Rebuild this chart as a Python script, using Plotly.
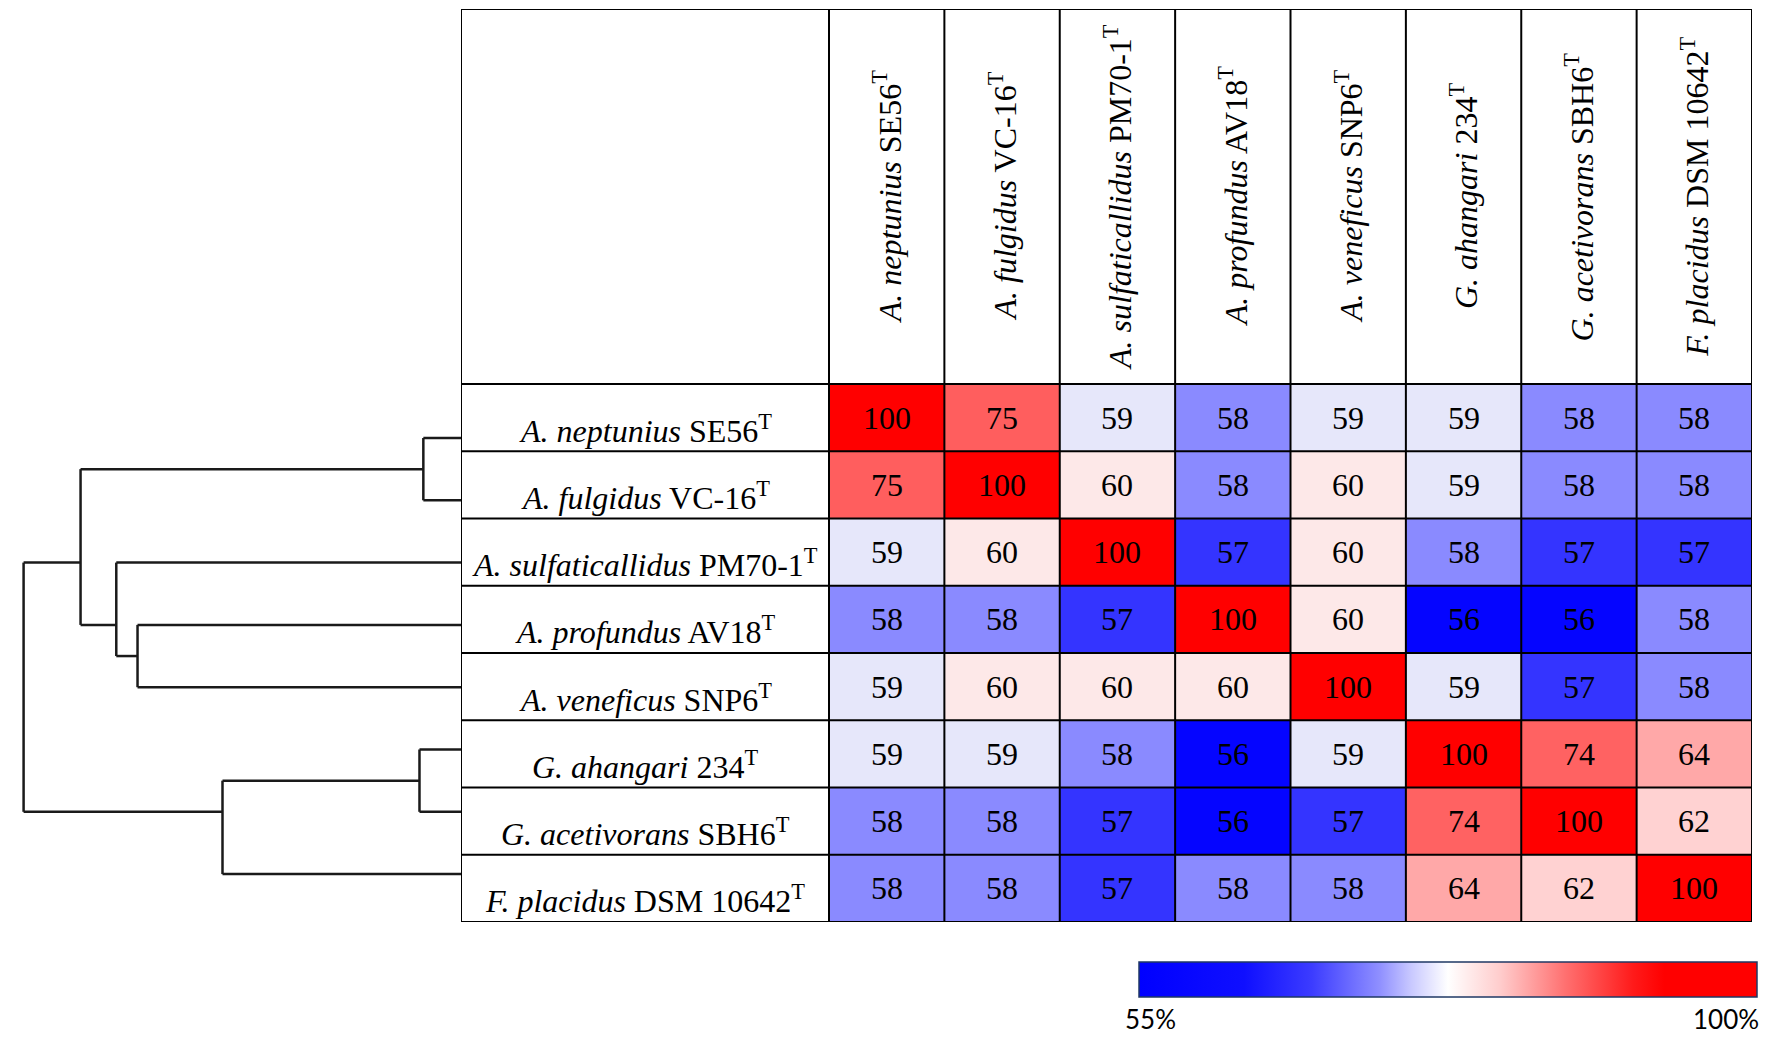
import plotly.graph_objects as go

# ---------------- data ----------------
row_labels = [
    "<i>A. neptunius</i> SE56<sup>T</sup>",
    "<i>A. fulgidus</i> VC-16<sup>T</sup>",
    "<i>A. sulfaticallidus</i> PM70-1<sup>T</sup>",
    "<i>A. profundus</i> AV18<sup>T</sup>",
    "<i>A. veneficus</i> SNP6<sup>T</sup>",
    "<i>G. ahangari</i> 234<sup>T</sup>",
    "<i>G. acetivorans</i> SBH6<sup>T</sup>",
    "<i>F. placidus</i> DSM 10642<sup>T</sup>",
]
col_labels = list(row_labels)

values = [
    [100, 75, 59, 58, 59, 59, 58, 58],
    [75, 100, 60, 58, 60, 59, 58, 58],
    [59, 60, 100, 57, 60, 58, 57, 57],
    [58, 58, 57, 100, 60, 56, 56, 58],
    [59, 60, 60, 60, 100, 59, 57, 58],
    [59, 59, 58, 56, 59, 100, 74, 64],
    [58, 58, 57, 56, 57, 74, 100, 62],
    [58, 58, 57, 58, 58, 64, 62, 100],
]

# dendrogram merges: (left, right, height); ids >= 8 refer to earlier merges
merges = [
    (0, 1, 3.9),
    (3, 4, 33.5),
    (2, 9, 35.7),
    (8, 10, 39.4),
    (5, 6, 4.3),
    (12, 7, 24.7),
    (11, 13, 45.3),
]

scale_min, scale_max = 55, 100
scale_labels = ["55%", "100%"]

# ---------------- geometry / style ----------------
PAGE_W, PAGE_H = 1772, 1043
OFF = 8                      # default page margin around the figure
W, H = PAGE_W - 2 * OFF, PAGE_H - 2 * OFF
px = lambda v: (v - OFF) / W
py = lambda v: 1 - (v - OFF) / H

n = len(values)
tab_left, lab_right, tab_right = 461, 829, 1752
tab_top, head_bot, tab_bot = 9, 384, 922
colw = (tab_right - lab_right) / n
rowh = (tab_bot - head_bot) / n
x_lo = -0.5 - (lab_right - tab_left) / colw
x_hi = n - 0.5
y_lo = -0.5 - (head_bot - tab_top) / rowh
y_hi = n - 0.5

leaf_top, leaf_step = 438, 62.3   # dendrogram leaf spacing (px)

cell_scale = [
    [0.0, "rgb(0,0,255)"],
    [(56 - 55) / 45, "rgb(5,5,255)"],
    [(57 - 55) / 45, "rgb(52,52,255)"],
    [(58 - 55) / 45, "rgb(138,138,255)"],
    [(59 - 55) / 45, "rgb(230,231,250)"],
    [(60 - 55) / 45, "rgb(253,232,232)"],
    [(62 - 55) / 45, "rgb(255,210,210)"],
    [(64 - 55) / 45, "rgb(255,168,168)"],
    [(74 - 55) / 45, "rgb(255,98,98)"],
    [(75 - 55) / 45, "rgb(255,94,94)"],
    [1.0, "rgb(255,0,0)"],
]
bar_scale = [
    [0.0, "rgb(0,0,255)"],
    [0.17, "rgb(15,15,255)"],
    [0.28, "rgb(60,60,255)"],
    [0.39, "rgb(144,144,255)"],
    [0.44, "rgb(200,200,255)"],
    [0.50, "rgb(255,255,255)"],
    [0.585, "rgb(255,204,204)"],
    [0.69, "rgb(255,112,112)"],
    [0.80, "rgb(255,26,26)"],
    [0.85, "rgb(255,0,0)"],
    [1.0, "rgb(255,0,0)"],
]

serif = "Liberation Serif, Times New Roman, serif"

fig = go.Figure()

# heatmap cells
fig.add_trace(go.Heatmap(
    z=values, x=list(range(n)), y=list(range(n)),
    zmin=scale_min, zmax=scale_max, colorscale=cell_scale, showscale=False,
    texttemplate="%{z}", textfont=dict(family=serif, size=32, color="black"),
    hoverinfo="skip", xaxis="x", yaxis="y",
))

# dendrogram
node_y = [float(i) for i in range(n)]
node_h = [0.0] * n
leaves = [[i] for i in range(n)]
dx, dy = [], []
for a, b, h in merges:
    lv = leaves[a] + leaves[b]
    ym = sum(lv) / len(lv)
    for c in (a, b):
        dx += [node_h[c], h, None]
        dy += [node_y[c], node_y[c], None]
    dx += [h, h, None]
    dy += [node_y[a], node_y[b], None]
    leaves.append(lv)
    node_y.append(ym)
    node_h.append(h)
fig.add_trace(go.Scatter(
    x=dx, y=dy, mode="lines", line=dict(color="#1a1a1a", width=2.5),
    hoverinfo="skip", xaxis="x2", yaxis="y2", showlegend=False,
))

# colour bar (legend of the scale)
fig.add_trace(go.Scatter(
    x=[None, None], y=[None, None], mode="markers", xaxis="x2", yaxis="y2",
    showlegend=False, hoverinfo="skip",
    marker=dict(
        color=[scale_min, scale_max], cmin=scale_min, cmax=scale_max,
        colorscale=bar_scale, showscale=True,
        colorbar=dict(
            orientation="h", x=px((1139 + 1757) / 2), xanchor="center",
            y=py(962), yanchor="top", len=618, lenmode="pixels",
            thickness=35, thicknessmode="pixels", xpad=0, ypad=0,
            outlinewidth=1.5, outlinecolor="#1f3864",
            showticklabels=False, ticks="",
        ),
    ),
))

# table grid lines
line = dict(color="black", width=2)
shapes = [dict(type="rect", xref="x", yref="y", x0=x_lo, x1=x_hi, y0=y_lo, y1=y_hi,
               line=line, layer="above")]
for k in range(n):
    shapes.append(dict(type="line", xref="x", yref="y", x0=k - 0.5, x1=k - 0.5,
                       y0=y_lo, y1=y_hi, line=line, layer="above"))
    shapes.append(dict(type="line", xref="x", yref="y", x0=x_lo, x1=x_hi,
                       y0=k - 0.5, y1=k - 0.5, line=line, layer="above"))

annotations = []
for i, lab in enumerate(row_labels):
    annotations.append(dict(
        x=(x_lo - 0.5) / 2, y=i, xref="x", yref="y", text=lab, showarrow=False,
        yshift=-11, font=dict(family=serif, size=32, color="black"),
    ))
for j, lab in enumerate(col_labels):
    annotations.append(dict(
        x=j, y=(y_lo - 0.5) / 2, xref="x", yref="y", text=lab, showarrow=False,
        textangle=-90, font=dict(family=serif, size=32, color="black"),
    ))
for xp, lab in zip([1150, 1726], scale_labels):
    annotations.append(dict(
        x=px(xp), y=py(1019), xref="paper", yref="paper", text=lab,
        showarrow=False, xanchor="center", yanchor="middle",
        font=dict(family="Lato, Open Sans, sans-serif", size=26, color="black"),
    ))

dend_top = -(leaf_top - OFF) / leaf_step
dend_bot = dend_top + H / leaf_step

fig.update_layout(
    width=W, height=H, margin=dict(l=0, r=0, t=0, b=0),
    paper_bgcolor="white", plot_bgcolor="white", showlegend=False,
    xaxis=dict(domain=[px(tab_left), px(tab_right)], range=[x_lo, x_hi],
               visible=False, showgrid=False, zeroline=False),
    yaxis=dict(domain=[py(tab_bot), py(tab_top)], range=[y_hi, y_lo],
               visible=False, showgrid=False, zeroline=False),
    xaxis2=dict(domain=[0, px(tab_left)], range=[46.1 * (tab_left) / (tab_left - OFF), 0],
                anchor="y2", visible=False, showgrid=False, zeroline=False),
    yaxis2=dict(domain=[0, 1], range=[dend_bot, dend_top],
                anchor="x2", visible=False, showgrid=False, zeroline=False),
    shapes=shapes, annotations=annotations,
)

fig.write_html("out.html")
